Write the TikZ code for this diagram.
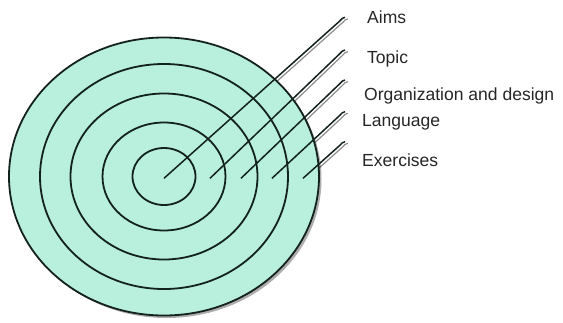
\documentclass[tikz,border=0pt]{standalone}
\usepackage{fontspec}
\setmainfont{Liberation Sans}
\usetikzlibrary{calc,shadows}
\definecolor{mint}{RGB}{184,239,221}
\definecolor{ringline}{RGB}{20,34,28}

\begin{document}
\begin{tikzpicture}[x=1bp, y=1bp,
    ring/.style={draw=ringline, line width=1.8bp},
    callout/.style={draw=ringline, line width=1.5bp},
    calloutshadow/.style={draw=black!45, line width=1.2bp},
    label/.style={anchor=base west, inner sep=0pt, text=black!85, font=\fontsize{17.6}{20}\selectfont}]
    \useasboundingbox (-164,-145.5) rectangle (399,176.5);

    % start points, one per ring
    \coordinate (aims-in) at (0,-1.8);
    \coordinate (topic-in) at (46,-1.8);
    \coordinate (org-in) at (77,-1.8);
    \coordinate (lang-in) at (108,-1.8);
    \coordinate (ex-in) at (139,-1.8);

    % hook ends
    \coordinate (aims-end) at (181,159.2);
    \coordinate (topic-end) at (181,126.5);
    \coordinate (org-end) at (181,96.5);
    \coordinate (lang-end) at (181,64.8);
    \coordinate (ex-end) at (181,34.8);

    % shadows of the callouts (under the disc)
    \begin{scope}[transform canvas={xshift=2.8bp, yshift=-1.6bp}]
        \foreach \n in {aims,topic,org,lang,ex}
            \draw[calloutshadow] (\n-in) -- ($(\n-end)+(-5,-3.5)$) to[out=43,in=180] (\n-end);
    \end{scope}

    % disc with rings
    \path[fill=mint, ring, drop shadow={shadow xshift=2.5bp, shadow yshift=-2.5bp, opacity=0.4, fill=black!80}]
        (0,0) ellipse (155bp and 139bp);
    \draw[ring] (0,0) ellipse (124bp and 112.5bp);
    \draw[ring] (0,0) ellipse (93.5bp and 83bp);
    \draw[ring] (0,0) ellipse (61.5bp and 54bp);
    \draw[ring] (0,0) ellipse (31.5bp and 28.5bp);

    % callouts
    \foreach \n in {aims,topic,org,lang,ex}
        \draw[callout] (\n-in) -- ($(\n-end)+(-5,-3.5)$) to[out=43,in=180] (\n-end);

    % labels
    \node[label] (aims) at (203,153.2) {Aims};
    \node[label] (topic) at (203,113.2) {Topic};
    \node[label] (org) at (200,76.5) {Organization and design};
    \node[label] (lang) at (198,49.8) {Language};
    \node[label] (ex) at (198,9.8) {Exercises};
\end{tikzpicture}
\end{document}
